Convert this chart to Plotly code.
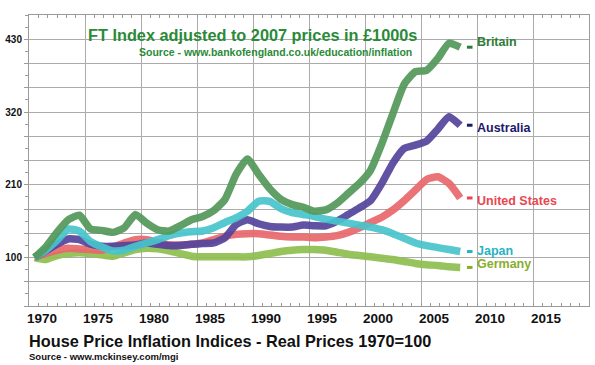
import plotly.graph_objects as go

years = list(range(1970, 2009))

britain = [100, 116, 138, 157, 164, 143, 141, 138, 145, 165, 152, 142, 140, 148, 157, 162, 171,
           188, 226, 249, 226, 204, 188, 180, 176, 170, 172, 182, 197, 212, 232, 272, 318, 362,
           381, 383, 401, 424, 418]
australia = [100, 110, 120, 128, 127, 120, 117, 117, 118, 119, 122, 120, 118, 118, 120, 121, 122,
             130, 150, 157, 151, 147, 146, 146, 149, 148, 148, 155, 165, 175, 186, 212, 243, 265,
             270, 276, 294, 313, 300]
united_states = [100, 106, 111, 114, 113, 112, 111, 116, 122, 127, 127, 123, 119, 119, 120, 122,
                 127, 132, 135, 136, 136, 134, 132, 131, 131, 130, 131, 133, 138, 145, 153, 161,
                 172, 186, 202, 218, 222, 212, 190]
japan = [100, 111, 126, 143, 140, 124, 116, 110, 111, 117, 122, 127, 133, 137, 139, 140, 145, 153,
         160, 170, 185, 185, 174, 168, 165, 162, 158, 155, 152, 149, 146, 142, 136, 129, 122, 118,
         115, 112, 109]
germany = [100, 97, 103, 106, 107, 106, 104, 102, 107, 112, 114, 113, 110, 106, 102, 101, 101, 101,
           101, 101, 103, 106, 109, 111, 112, 112, 111, 108, 105, 103, 101, 99, 97, 94, 91, 89, 88,
           86, 85]

series_names = ["Germany", "United States", "Australia", "Japan", "Britain"]
series_values = [germany, united_states, australia, japan, britain]
line_colors = ["#8fbe4f", "#e8686b", "#54449c", "#48c4cc", "#53995a"]
label_colors = ["#8aad2e", "#e8474f", "#1d1a6b", "#27b3c4", "#2e7d34"]
label_shift = [3, -3, -3, 1, 5]

x_tick_labels = ["1970", "1975", "1980", "1985", "1990", "1995", "2000", "2005", "2010", "2015"]
y_tick_labels = ["", "", "100", "", "", "210", "", "", "320", "", "", "430"]

grid_x0 = 1969.5
grid_dx = 5
y0 = 100 - 2 * 110 / 3
ydy = 110 / 3

FONT = "Liberation Sans, Arial, sans-serif"

fig = go.Figure()
for name, vals, col in zip(series_names, series_values, line_colors):
    fig.add_trace(go.Scatter(
        x=years, y=vals, mode="lines", name=name,
        line=dict(color=col, width=7.5, shape="spline", smoothing=0.5),
        opacity=0.92, showlegend=False,
    ))

annotations = []
shapes = []
for name, vals, col, dy in zip(series_names, series_values, label_colors, label_shift):
    last = vals[-1]
    shapes.append(dict(type="line", xref="x", yref="y", x0=2008.6, x1=2009.1, y0=last, y1=last,
                       line=dict(color=col, width=3)))
    annotations.append(dict(xref="x", yref="y", x=2009.3, y=last, yshift=dy, text=name,
                            showarrow=False, xanchor="left", yanchor="middle",
                            font=dict(family=FONT, size=12.5, color=col, weight="bold")))

annotations += [
    dict(xref="paper", yref="paper", x=0.696, y=0.931, xanchor="right", yanchor="middle",
         text="FT Index adjusted to 2007 prices in £1000s", showarrow=False,
         font=dict(family=FONT, size=16.3, color="#2a8a38", weight="bold")),
    dict(xref="paper", yref="paper", x=0.687, y=0.874, xanchor="right", yanchor="middle",
         text="Source - www.bankofengland.co.uk/education/inflation", showarrow=False,
         font=dict(family=FONT, size=10.5, color="#2a8a38", weight="bold")),
    dict(xref="paper", yref="paper", x=-0.004, y=-0.120, xanchor="left", yanchor="middle",
         text="House Price Inflation Indices - Real Prices 1970=100", showarrow=False,
         font=dict(family=FONT, size=16.3, color="#111111", weight="bold")),
    dict(xref="paper", yref="paper", x=-0.004, y=-0.172, xanchor="left", yanchor="middle",
         text="Source - www.mckinsey.com/mgi", showarrow=False,
         font=dict(family=FONT, size=9.5, color="#111111", weight="bold")),
]

fig.update_layout(
    width=595, height=365,
    margin=dict(l=27, r=5, t=15, b=59),
    paper_bgcolor="white", plot_bgcolor="white",
    annotations=annotations, shapes=shapes,
)
fig.update_xaxes(
    range=[grid_x0, grid_x0 + 10 * grid_dx],
    tickvals=[grid_x0 + grid_dx * i for i in range(len(x_tick_labels))],
    ticktext=x_tick_labels,
    ticklabelshift=13,
    showgrid=True, gridcolor="#ababab", gridwidth=1,
    showline=True, linecolor="#9a9a9a", linewidth=1, mirror="allticks",
    ticks="inside", ticklen=0, tickcolor="#9a9a9a",
    minor=dict(dtick=grid_dx / 6, tick0=grid_x0, ticks="inside", ticklen=3, tickcolor="#9a9a9a",
               showgrid=False),
    tickfont=dict(family=FONT, size=13.5, color="#111111", weight="bold"),
    zeroline=False,
)
fig.update_yaxes(
    range=[y0, y0 + 12 * ydy],
    tickvals=[y0 + ydy * i for i in range(len(y_tick_labels))],
    ticktext=y_tick_labels,
    showgrid=True, gridcolor="#ababab", gridwidth=1,
    showline=True, linecolor="#9a9a9a", linewidth=1, mirror=True,
    ticks="outside", ticklen=4, tickcolor="#9a9a9a",
    minor=dict(dtick=ydy / 2, tick0=y0, ticks="outside", ticklen=3, tickcolor="#9a9a9a",
               showgrid=False),
    tickfont=dict(family=FONT, size=10, color="#111111", weight="bold"),
    zeroline=False,
)

fig.write_html("out.html",
               config={"displayModeBar": False},
               post_script="document.body.style.margin='0px';document.body.style.overflow='hidden';")
